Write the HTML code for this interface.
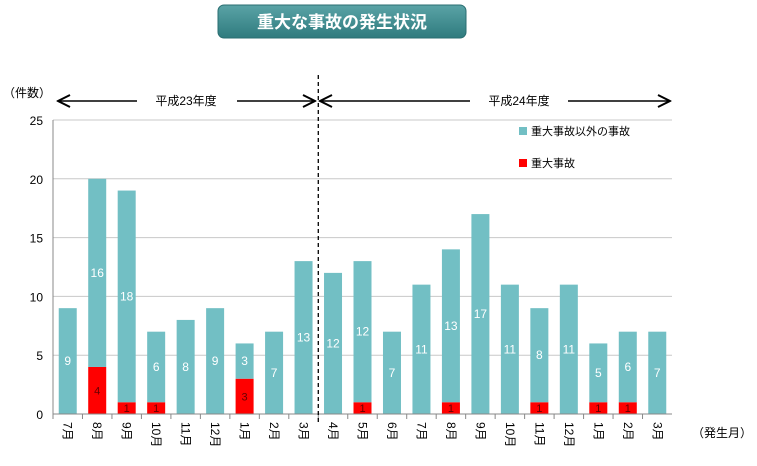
<!DOCTYPE html>
<html><head><meta charset="utf-8"><style>
body{margin:0;background:#fff;}
svg text{font-family:"Liberation Sans","Noto Sans CJK JP",sans-serif;}
</style></head><body>
<svg width="757" height="461" id="c">
<defs><linearGradient id="g" x1="0" y1="0" x2="0" y2="1"><stop offset="0" stop-color="#5aa3a6"/><stop offset="1" stop-color="#2f7b7e"/></linearGradient>
<marker id="ah" markerWidth="10" markerHeight="10" refX="9" refY="5" orient="auto-start-reverse"><path d="M1,1 L9,5 L1,9" fill="none" stroke="#000" stroke-width="1.3"/></marker></defs>
<rect x="218" y="5" width="248" height="33" rx="6" fill="url(#g)" stroke="#2a6e71"/>
<text x="342" y="28" text-anchor="middle" font-size="17" font-weight="bold" fill="#fff">重大な事故の発生状況</text>
<text x="3" y="97" font-size="12">（件数）</text>
<line x1="58" y1="101" x2="137" y2="101" stroke="#000" stroke-width="1.5" marker-start="url(#ah)"/>
<line x1="237" y1="101" x2="315" y2="101" stroke="#000" stroke-width="1.5" marker-end="url(#ah)"/>
<text x="186" y="105" text-anchor="middle" font-size="12">平成23年度</text>
<line x1="320" y1="101" x2="470" y2="101" stroke="#000" stroke-width="1.5" marker-start="url(#ah)"/>
<line x1="568" y1="101" x2="670" y2="101" stroke="#000" stroke-width="1.5" marker-end="url(#ah)"/>
<text x="519" y="105" text-anchor="middle" font-size="12">平成24年度</text>
<rect x="519" y="127" width="8" height="8" fill="#72bfc4"/>
<text x="531" y="135" font-size="11">重大事故以外の事故</text>
<rect x="519" y="159" width="8" height="8" fill="#ff0000"/>
<text x="531" y="167" font-size="11">重大事故</text>
<text x="692" y="437" font-size="12">（発生月）</text>
<g id="plot"></g>
</svg>
<script>
const months=["7月","8月","9月","10月","11月","12月","1月","2月","3月","4月","5月","6月","7月","8月","9月","10月","11月","12月","1月","2月","3月"];
const serious=[0,4,1,1,0,0,3,0,0,0,1,0,0,1,0,0,1,0,1,1,0];
const other=[9,16,18,6,8,9,3,7,13,12,12,7,11,13,17,11,8,11,5,6,7];
const yTicks=[0,5,10,15,20,25];
const X0=53,X1=672,Y0=414,Y1=120,YMAX=25;
const step=(X1-X0)/months.length;
const y=v=>Y0-(v/YMAX)*(Y0-Y1);
const xc=i=>X0+step*(i+0.5);
const NS="http://www.w3.org/2000/svg";
const g=document.getElementById('plot');
function mk(t,a,txt){const e=document.createElementNS(NS,t);for(const k in a)e.setAttribute(k,a[k]);if(txt!=null)e.textContent=txt;g.appendChild(e);return e;}
yTicks.forEach(v=>{
 if(v>0){const l=mk('line',{x1:X0,x2:X1,y1:y(v),y2:y(v),stroke:'#c8c8c8'});
 
 }
 const t=mk('text',{x:X0-10,y:y(v)+5,'text-anchor':'end','font-size':12},v);
 
 
});
months.forEach((m,i)=>{
 const bw=18,bx=xc(i)-bw/2;
 if(serious[i]>0){const r=mk('rect',{x:bx,y:y(serious[i]),width:bw,height:Y0-y(serious[i]),fill:'#ff0000'});
 
 
 const t=mk('text',{x:xc(i),y:(y(serious[i])+Y0)/2+4,'text-anchor':'middle','font-size':11,fill:'#600'},serious[i]);
 
 }
 const top=serious[i]+other[i];
 const r2=mk('rect',{x:bx,y:y(top),width:bw,height:y(serious[i])-y(top),fill:'#72bfc4'});
 
 
 const t2=mk('text',{x:xc(i),y:(y(top)+y(serious[i]))/2+4,'text-anchor':'middle','font-size':12,fill:'#fff'},other[i]);
 
 
 const tk=mk('line',{x1:X0+step*i,x2:X0+step*i,y1:Y0,y2:Y0+5,stroke:'#888'});
 
 
 const lb=mk('text',{x:0,y:0,'font-size':12,transform:`translate(${xc(i)-4},${Y0+8}) rotate(90)`},m);
 
 
});
const ax=mk('line',{x1:X0,x2:X1,y1:Y0,y2:Y0,stroke:'#888'});


const ay=mk('line',{x1:X0,x2:X0,y1:Y1,y2:Y0,stroke:'#888'});


const dl=mk('line',{x1:X0+step*9,x2:X0+step*9,y1:75,y2:Y0+10,stroke:'#000','stroke-dasharray':'4,3','stroke-width':1.3});


</script>
</body></html>
